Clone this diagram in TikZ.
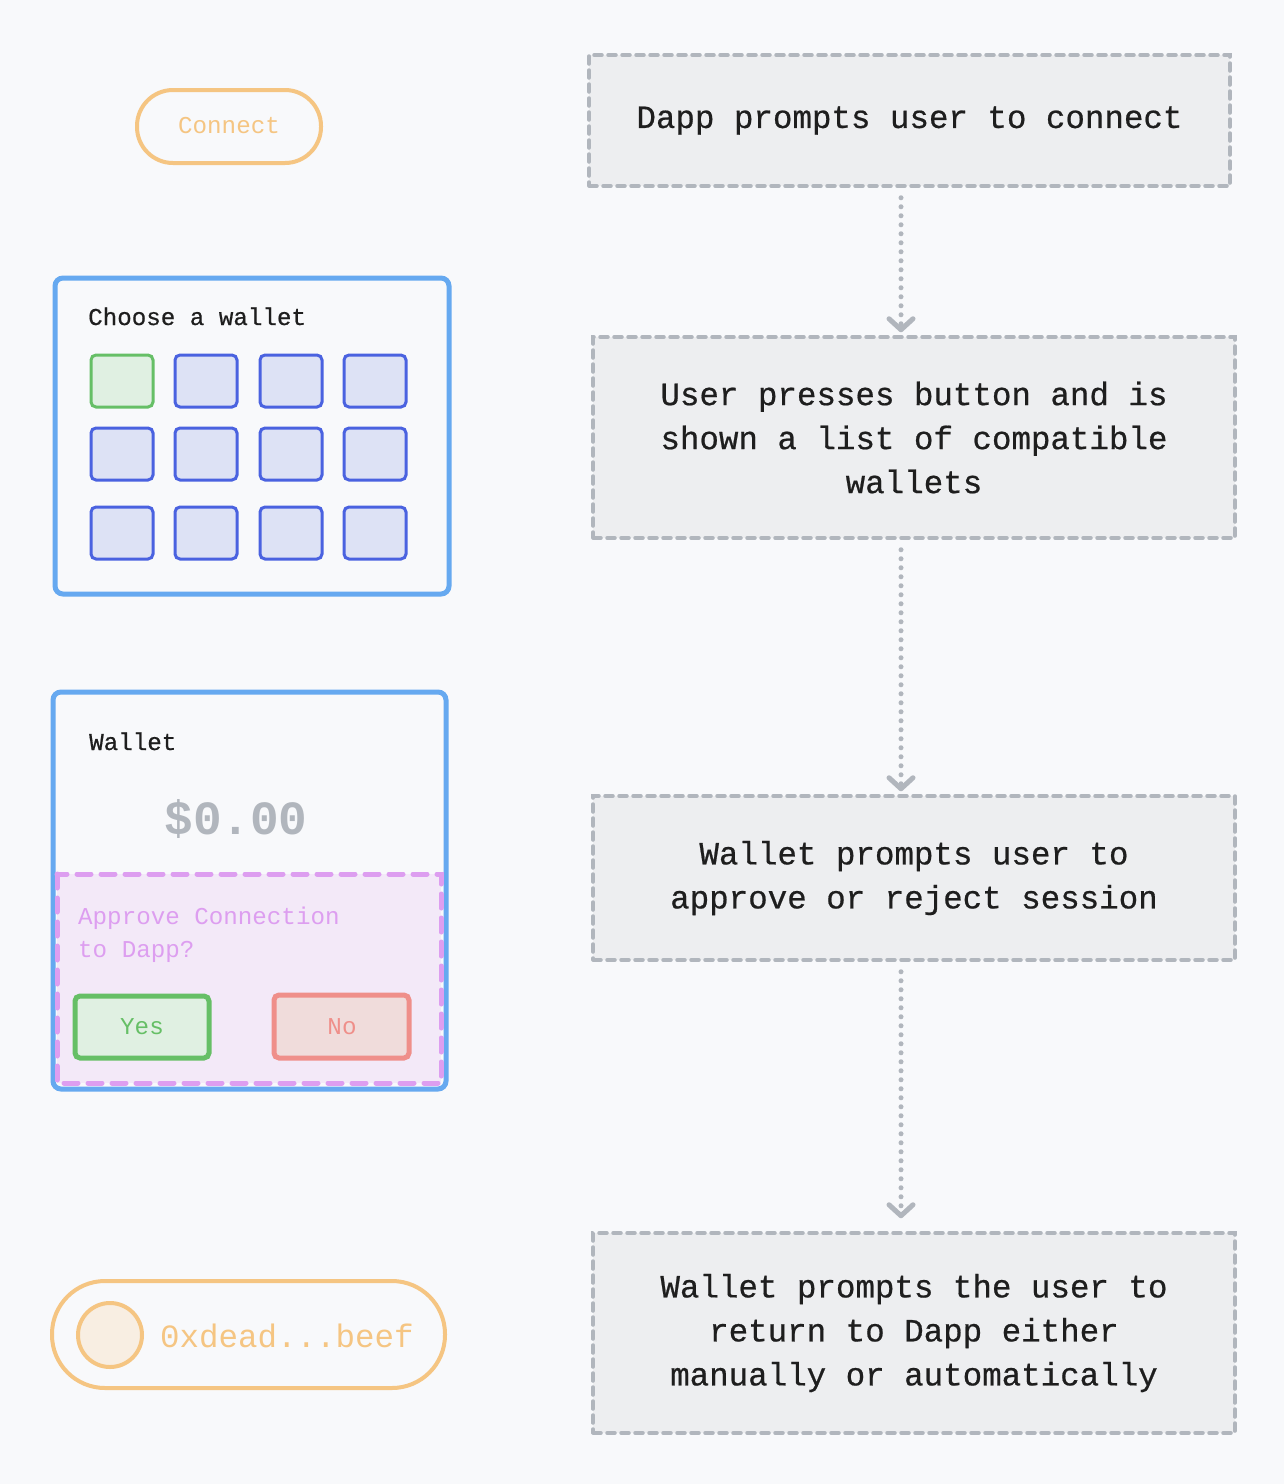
\documentclass[tikz,border=0pt]{standalone}
\usepackage{fontspec}
\setmainfont{Liberation Mono}
\setmonofont{Liberation Mono}
\newfontfamily\boldishmono[FakeBold=0.6]{Liberation Mono}
\usetikzlibrary{arrows.meta,calc}
\definecolor{bg}{HTML}{F8F9FB}
\definecolor{boxfill}{HTML}{EDEEF0}
\definecolor{grayline}{HTML}{B1B6BD}
\definecolor{panelblue}{HTML}{66A9F0}
\definecolor{tileblue}{HTML}{4A62E0}
\definecolor{tilefill}{HTML}{DDE2F5}
\definecolor{okgreen}{HTML}{66BF66}
\definecolor{okfill}{HTML}{E0F0E2}
\definecolor{orng}{HTML}{F5C582}
\definecolor{orngfill}{HTML}{F8EEE2}
\definecolor{purp}{HTML}{DD9EF0}
\definecolor{purpfill}{HTML}{F3E9F8}
\definecolor{redl}{HTML}{EF8F8A}
\definecolor{redfill}{HTML}{F0DCDB}
\definecolor{darktext}{HTML}{1E1E1E}
\tikzset{
  stepbox/.style={draw=grayline, fill=boxfill, line width=3.5pt, line cap=round,
    dash pattern=on 8pt off 6pt, align=center, text=darktext,
    font=\boldishmono\fontsize{32.5}{44}\selectfont},
  flow/.style={draw=grayline, line width=5pt, line cap=round,
    dash pattern=on 0pt off 9pt,
    -{Straight Barb[length=11pt,width=24pt,line width=5pt,round]}},
  panel/.style={draw=panelblue, fill=bg, line width=5pt, rounded corners=8pt},
  tile/.style={draw=tileblue, fill=tilefill, line width=3pt, rounded corners=5pt,
    minimum width=62pt, minimum height=52pt, inner sep=0pt},
  seltile/.style={tile, draw=okgreen, fill=okfill},
  smalltxt/.style={font=\fontsize{24.2}{33}\selectfont, inner sep=0pt},
  smalldark/.style={font=\boldishmono\fontsize{24.2}{33}\selectfont, inner sep=0pt, text=darktext},
}
\begin{document}
\begin{tikzpicture}[x=1pt,y=-1pt]
\useasboundingbox (0,0) rectangle (1284,1484);
\fill[bg] (0,0) rectangle (1284,1484);

% right column steps
\node[stepbox, minimum width=641pt, minimum height=131pt] (s1) at (909.5,120.5)
  {Dapp prompts user to connect};
\node[stepbox, minimum width=642pt, minimum height=201pt] (s2) at (914,437.5)
  {User presses button and is\\shown a list of compatible\\wallets};
\node[stepbox, minimum width=642pt, minimum height=164pt] (s3) at (914,878)
  {Wallet prompts user to\\approve or reject session};
\node[stepbox, minimum width=642pt, minimum height=200pt] (s4) at (914,1333)
  {Wallet prompts the user to\\return to Dapp either\\manually or automatically};

\coordinate (ax) at (901,0);
\draw[flow] ($(s1.south -| ax)+(0,10)$) -- ($(s2.north -| ax)+(0,-3)$);
\draw[flow] ($(s2.south -| ax)+(0,10)$) -- ($(s3.north -| ax)+(0,-3)$);
\draw[flow] ($(s3.south -| ax)+(0,10)$) -- ($(s4.north -| ax)+(0,-13)$);

% Connect button
\draw[orng, line width=4pt, rounded corners=36pt] (137,90) rectangle (321,163);
\node[smalltxt, text=orng] (connect) at (229,126) {Connect};

% Choose a wallet panel
\draw[panel] (55,278) rectangle (449,594);
\node[smalldark, anchor=base west] (choose) at (88,325) {Choose a wallet};
\node[seltile] (t11) at (122,381) {};
\node[tile] (t12) at (206,381) {};
\node[tile] (t13) at (291,381) {};
\node[tile] (t14) at (375,381) {};
\node[tile] (t21) at (122,454) {};
\node[tile] (t22) at (206,454) {};
\node[tile] (t23) at (291,454) {};
\node[tile] (t24) at (375,454) {};
\node[tile] (t31) at (122,533) {};
\node[tile] (t32) at (206,533) {};
\node[tile] (t33) at (291,533) {};
\node[tile] (t34) at (375,533) {};

% Wallet panel
\draw[panel] (53,692) rectangle (446,1089);
\node[smalldark, anchor=base west] (wallet) at (89,750) {Wallet};
\node[font=\fontsize{47.7}{50}\selectfont\bfseries, text=grayline, anchor=base, inner sep=0pt] (amount) at (236,834) {\$0.00};
\draw[draw=purp, fill=purpfill, line width=5pt, line cap=round, dash pattern=on 14pt off 10pt]
  (57,874) rectangle (441,1083);
\node[smalltxt, anchor=base west, text=purp] (appr1) at (78,924) {Approve Connection};
\node[smalltxt, anchor=base west, text=purp] (appr2) at (78,957) {to Dapp?};
\draw[draw=okgreen, fill=okfill, line width=5pt, rounded corners=5pt] (75,996) rectangle (209,1058);
\node[smalltxt, text=okgreen] (yes) at (142,1027) {Yes};
\draw[draw=redl, fill=redfill, line width=5pt, rounded corners=5pt] (274,995) rectangle (409,1058);
\node[smalltxt, text=redl] (no) at (342,1027) {No};

% Address pill
\draw[orng, line width=4pt, rounded corners=53pt] (52,1281) rectangle (445,1388);
\node[circle, draw=orng, fill=orngfill, line width=4pt, minimum size=64pt, inner sep=0pt] (avatar) at (110,1335) {};
\node[font=\fontsize{32.5}{40}\selectfont, text=orng, anchor=base west, inner sep=0pt] (addr) at (160,1347) {0xdead...beef};
\end{tikzpicture}
\end{document}
